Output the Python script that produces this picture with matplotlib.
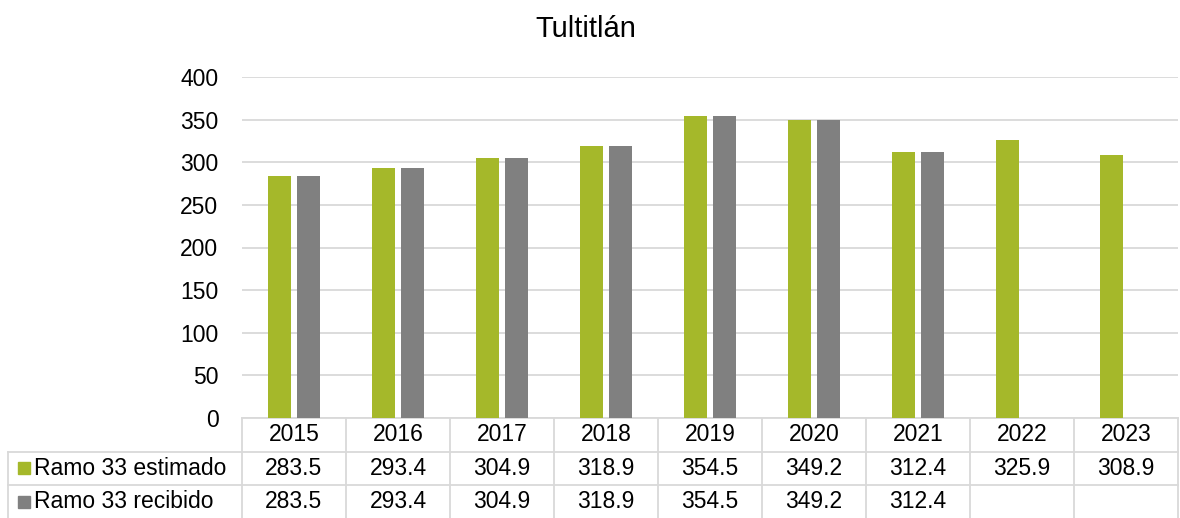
import matplotlib.pyplot as plt
import numpy as np

plt.rcParams['font.family'] = ['Liberation Sans', 'DejaVu Sans']

years = ['2015', '2016', '2017', '2018', '2019', '2020', '2021', '2022', '2023']
estimado = [283.5, 293.4, 304.9, 318.9, 354.5, 349.2, 312.4, 325.9, 308.9]
recibido = [283.5, 293.4, 304.9, 318.9, 354.5, 349.2, 312.4, None, None]
series_names = ['Ramo 33 estimado', 'Ramo 33 recibido']
colors = ['#A5B82A', '#808080']
grid_color = '#D9D9D9'
fs = 16.5

fig = plt.figure(figsize=(11.8, 5.18), dpi=100)
ax = fig.add_axes([242 / 1180, 100 / 518, 936 / 1180, 341 / 518])

x = np.arange(len(years))
w = 0.22
off = 0.142
ax.bar(x - off, estimado, width=w, color=colors[0], zorder=3)
rx = [i for i, v in enumerate(recibido) if v is not None]
rv = [v for v in recibido if v is not None]
ax.bar(np.array(rx) + off, rv, width=w, color=colors[1], zorder=3)

ax.set_xlim(-0.5, len(years) - 0.5)
ax.set_ylim(0, 400)
ax.set_yticks(range(0, 401, 50))
ax.yaxis.grid(True, color=grid_color, linewidth=1.3, zorder=0)
ax.set_xticks([])
ax.tick_params(axis='y', length=0, labelsize=fs, pad=17)
for s in ax.spines.values():
    s.set_visible(False)

fig.text(586 / 1180, 1 - 37 / 518, 'Tultitlán', ha='center', va='baseline',
         fontsize=21)

# data table below the plot
tr = ax.get_xaxis_transform()
row_h = 33.5 / 341
left = -0.5 - 234 / 104
right = len(years) - 0.5
lw = 1.3
# horizontal lines
ax.plot([-0.5, right], [0, 0], color=grid_color, lw=lw, transform=tr, clip_on=False)
for r in (1, 2):
    ax.plot([left, right], [-r * row_h, -r * row_h], color=grid_color, lw=lw,
            transform=tr, clip_on=False)
# vertical lines
for i in range(len(years) + 1):
    ax.plot([i - 0.5, i - 0.5], [0, -3 * row_h], color=grid_color, lw=lw,
            transform=tr, clip_on=False)
ax.plot([left, left], [-row_h, -3 * row_h], color=grid_color, lw=lw,
        transform=tr, clip_on=False)

for i, yr in enumerate(years):
    ax.text(i, -0.5 * row_h, yr, ha='center', va='center', fontsize=fs,
            transform=tr)
    ax.text(i, -1.5 * row_h, f'{estimado[i]:.1f}', ha='center', va='center',
            fontsize=fs, transform=tr)
    if recibido[i] is not None:
        ax.text(i, -2.5 * row_h, f'{recibido[i]:.1f}', ha='center', va='center',
                fontsize=fs, transform=tr)

for r, (name, c) in enumerate(zip(series_names, colors)):
    yy = -(r + 1.5) * row_h
    ax.plot([left + 16 / 104], [yy], marker='s', markersize=8.5, color=c,
            transform=tr, clip_on=False)
    ax.text(left + 26 / 104, yy, name, ha='left', va='center', fontsize=fs,
            transform=tr)

fig.savefig('out.png', dpi=100)
